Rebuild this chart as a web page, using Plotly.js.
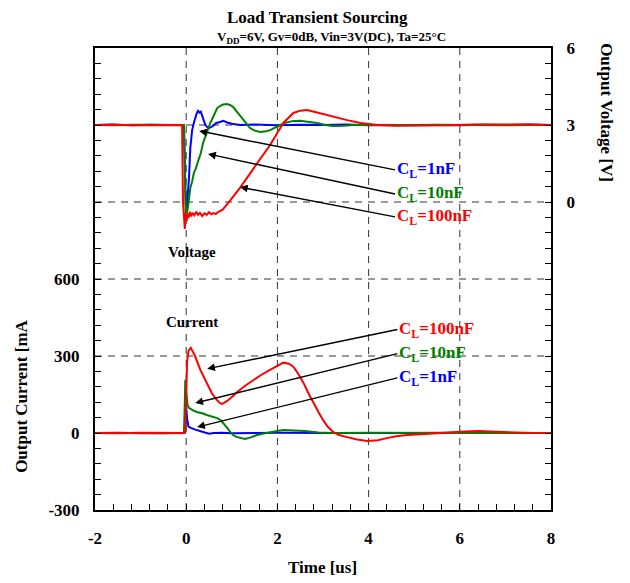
<!DOCTYPE html>
<html>
<head>
<meta charset="utf-8">
<script src="https://cdn.plot.ly/plotly-3.0.1.min.js"></script>
<style>
  html, body { margin: 0; padding: 0; background: #fff; }
  #chart { width: 630px; height: 583px; }
</style>
</head>
<body>
<div id="chart"></div>
<script>
// Output voltage [V] versus time [us]
const tV1 = [-2, -1.6, -1.2, -0.8, -0.4, -0.05, -0.03, -0.01, 0.01, 0.02, 0.04, 0.06, 0.09, 0.13, 0.17, 0.2, 0.23, 0.26, 0.29, 0.32, 0.35, 0.38, 0.42, 0.46, 0.5, 0.58, 0.66, 0.74, 0.81, 0.9, 1.0, 1.18, 1.5, 2, 2.5, 3, 3.5, 4, 4.5, 5, 5.5, 6, 6.5, 7, 7.5, 8];
const vV1 = [3.0, 3.02, 2.99, 3.01, 3.0, 3.0, 1.6, -0.1, -0.25, -0.2, 0.4, 0.9, 2.1, 2.8, 3.1, 3.3, 3.45, 3.55, 3.48, 3.52, 3.35, 3.2, 3.0, 2.92, 2.88, 2.95, 3.08, 3.12, 3.16, 3.1, 3.05, 3.0, 3.02, 2.99, 3.01, 3.0, 3.02, 2.99, 3.0, 3.01, 3.0, 2.99, 3.01, 3.0, 3.02, 3.0];

const tV10 = [-2, -1.6, -1.2, -0.8, -0.4, -0.05, -0.03, -0.01, 0.01, 0.03, 0.06, 0.09, 0.13, 0.17, 0.21, 0.24, 0.28, 0.32, 0.37, 0.42, 0.47, 0.53, 0.6, 0.68, 0.75, 0.81, 0.89, 0.96, 1.03, 1.1, 1.18, 1.25, 1.4, 1.5, 1.62, 1.75, 1.84, 2.06, 2.2, 2.35, 2.5, 2.7, 2.87, 3.05, 3.22, 3.45, 3.66, 4.0, 4.5, 5, 5.5, 6, 6.5, 7, 7.5, 8];
const vV10 = [3.0, 2.99, 3.01, 3.0, 3.01, 3.0, 1.2, -0.35, -0.45, -0.3, 0.1, 0.55, 0.8, 1.15, 1.3, 1.44, 1.7, 1.9, 2.3, 2.55, 2.8, 3.08, 3.35, 3.66, 3.75, 3.8, 3.82, 3.78, 3.7, 3.55, 3.35, 3.19, 2.88, 2.78, 2.73, 2.76, 2.8, 3.0, 3.1, 3.16, 3.17, 3.12, 3.08, 3.0, 2.96, 2.97, 3.0, 3.0, 2.99, 3.0, 3.01, 3.0, 3.0, 2.99, 3.0, 3.0];

const tV100 = [-2, -1.6, -1.2, -0.8, -0.4, -0.09, -0.07, -0.05, -0.03, -0.01, 0.01, 0.03, 0.05, 0.08, 0.11, 0.14, 0.18, 0.22, 0.26, 0.3, 0.35, 0.4, 0.45, 0.5, 0.55, 0.6, 0.65, 0.7, 0.8, 0.9, 1.0, 1.18, 1.56, 1.84, 2.13, 2.35, 2.5, 2.65, 2.85, 3.09, 3.3, 3.53, 3.82, 4.2, 4.6, 5.2, 5.8, 6.3, 7.0, 7.5, 8];
const vV100 = [3.0, 3.01, 2.99, 3.0, 3.01, 3.0, 0.0, -0.8, -1.05, -0.4, -0.75, -0.45, -0.62, -0.38, -0.56, -0.42, -0.52, -0.38, -0.5, -0.42, -0.55, -0.44, -0.5, -0.4, -0.48, -0.43, -0.47, -0.39, -0.3, -0.08, 0.15, 0.55, 1.52, 2.22, 3.08, 3.47, 3.56, 3.58, 3.5, 3.39, 3.28, 3.19, 3.08, 3.0, 2.97, 2.97, 2.99, 3.02, 3.03, 3.02, 3.0];

// Output current [mA] versus time [us]
const tI1 = [-2, -1.5, -1, -0.5, -0.03, -0.01, 0.0, 0.02, 0.05, 0.1, 0.15, 0.2, 0.3, 0.4, 0.5, 0.6, 0.8, 1.0, 1.5, 2, 3, 4, 5, 6, 7, 8];
const iI1 = [0, 1, -1, 0, 0, 45, 102, 55, 25, 20, 15, 13, 8, 3, -3, 0, 1, -1, 0, 1, 0, -1, 0, 1, 0, 0];

const tI10 = [-2, -1.5, -1, -0.5, -0.05, -0.03, -0.02, 0.0, 0.03, 0.06, 0.09, 0.15, 0.23, 0.3, 0.37, 0.45, 0.52, 0.6, 0.68, 0.75, 0.82, 0.9, 0.96, 1.03, 1.1, 1.2, 1.29, 1.4, 1.55, 1.7, 1.84, 2.0, 2.13, 2.35, 2.6, 2.9, 3.2, 4, 5, 6, 7, 8];
const iI10 = [0, 1, 0, -1, 0, 120, 207, 160, 109, 98, 94, 88, 82, 80, 76, 70, 66, 63, 58, 51, 38, 20, 5, -8, -15, -20, -23, -18, -8, -2, 4, 8, 12, 10, 8, 2, 0, 1, 0, 1, 0, 0];

const tI100 = [-2, -1.5, -1, -0.5, -0.04, -0.02, 0.0, 0.02, 0.05, 0.1, 0.15, 0.2, 0.31, 0.45, 0.56, 0.65, 0.75, 0.79, 0.9, 1.0, 1.12, 1.3, 1.47, 1.65, 1.84, 2.0, 2.13, 2.25, 2.35, 2.46, 2.57, 2.68, 2.79, 2.9, 3.0, 3.1, 3.22, 3.35, 3.53, 3.75, 3.97, 4.2, 4.4, 4.6, 4.85, 5.2, 5.6, 6.0, 6.4, 6.8, 7.2, 7.6, 8];
const iI100 = [0, -1, 1, 0, 0, 10, 150, 280, 320, 332, 315, 297, 246, 195, 156, 133, 115, 113, 125, 140, 160, 185, 207, 227, 246, 262, 274, 270, 258, 230, 196, 155, 117, 82, 51, 25, 4, -8, -16, -25, -31, -28, -20, -13, -8, -3, 0, 5, 8, 5, 2, 0, 0];

// Curve colours and legend texts
const seriesColors = ['#0000ff', '#008000', '#ff0000'];
const seriesNames = ['C<sub>L</sub>=1nF', 'C<sub>L</sub>=10nF', 'C<sub>L</sub>=100nF'];

// Axis ranges, labelled ticks, tick spacing and dashed grid positions
const xRange = [-2, 8];
const xLabels = [-2, 0, 2, 4, 6, 8];
const xStep = 0.4;
const xGrid = [0, 2, 4, 6];
const iRange = [-300, 1500];
const iLabels = [-300, 0, 300, 600];
const iStep = 60;
const iGrid = [300, 600];
const vRange = [-12, 6];
const vLabels = [0, 3, 6];
const vStep = 0.6;
const vGrid = [0, 3];

// Labels with pointer arrows: [label t, label value, arrow head t, arrow head value]
const voltPointers = [[4.58, 1.25, 0.285, 2.77], [4.58, 0.31, 0.48, 1.87], [4.58, -0.58, 1.18, 0.58]];
const currPointers = [[4.63, 215, 0.24, 23], [4.63, 309, 0.2, 117], [4.63, 403, 0.46, 250]];

const FONT = 'Liberation Serif, Times New Roman, serif';

const line = (c) => ({ color: c, width: 2 });
const traces = [
  { x: tV1, y: vV1, yaxis: 'y2', mode: 'lines', line: line(seriesColors[0]) },
  { x: tV10, y: vV10, yaxis: 'y2', mode: 'lines', line: line(seriesColors[1]) },
  { x: tV100, y: vV100, yaxis: 'y2', mode: 'lines', line: line(seriesColors[2]) },
  { x: tI1, y: iI1, yaxis: 'y', mode: 'lines', line: line(seriesColors[0]) },
  { x: tI10, y: iI10, yaxis: 'y', mode: 'lines', line: line(seriesColors[1]) },
  { x: tI100, y: iI100, yaxis: 'y', mode: 'lines', line: line(seriesColors[2]) }
];

// Tick positions every step across the range, labelled only at the chosen values
function tickSet(range, step, labels) {
  const vals = [], text = [];
  const n = Math.round((range[1] - range[0]) / step);
  for (let k = 0; k <= n; k++) {
    const v = Math.round((range[0] + k * step) * 1000) / 1000;
    vals.push(v);
    text.push(labels.some(l => Math.abs(l - v) < 1e-6) ? String(v) : '');
  }
  return { tickmode: 'array', tickvals: vals, ticktext: text };
}

const tickFont = { family: FONT, size: 17, color: '#000', weight: 'bold' };
const axisBase = {
  ticks: 'inside', ticklen: 6, tickwidth: 1, tickcolor: '#000',
  showline: true, linecolor: '#000', linewidth: 2,
  zeroline: false, showgrid: false, tickfont: tickFont
};

// Dashed grid lines, drawn beneath the curves
const gridLine = { color: '#333', width: 1, dash: '7px,6px' };
const shapes = [];
xGrid.forEach(v => shapes.push({ type: 'line', layer: 'below', xref: 'x', yref: 'paper', x0: v, x1: v, y0: 0, y1: 1, line: gridLine }));
iGrid.forEach(v => shapes.push({ type: 'line', layer: 'below', xref: 'paper', yref: 'y', x0: 0, x1: 1, y0: v, y1: v, line: gridLine }));
vGrid.forEach(v => shapes.push({ type: 'line', layer: 'below', xref: 'paper', yref: 'y2', x0: 0, x1: 1, y0: v, y1: v, line: gridLine }));

const annotations = [];
function txt(text, x, y, xref, yref, opts) {
  annotations.push(Object.assign({
    text: text, x: x, y: y, xref: xref, yref: yref, showarrow: false,
    xanchor: 'center', yanchor: 'middle',
    font: { family: FONT, size: 17, color: '#000', weight: 'bold' }
  }, opts || {}));
}

// Titles
txt('Load Transient Sourcing', 0.487, 1.067, 'paper', 'paper', { font: { family: FONT, size: 17, color: '#000', weight: 'bold' } });
txt('V<sub>DD</sub>=6V, Gv=0dB, Vin=3V(DC), Ta=25°C', 0.518, 1.022, 'paper', 'paper', { font: { family: FONT, size: 13, color: '#000', weight: 'bold' } });
txt('Time [us]', 0.498, -0.1255, 'paper', 'paper');
txt('Output Current [mA', -0.16, 0.245, 'paper', 'paper', { textangle: -90 });
txt('Output Voltage [V]', 1.123, 0.861, 'paper', 'paper', { textangle: 90 });

// Section labels
txt('Voltage', -0.44, -1.95, 'x', 'y2', { xanchor: 'left', font: { family: FONT, size: 15, color: '#000', weight: 'bold' } });
txt('Current', -0.48, 434, 'x', 'y', { xanchor: 'left', font: { family: FONT, size: 15, color: '#000', weight: 'bold' } });

// Series labels, each with an arrow to its curve
function pointer(p, k, yref) {
  annotations.push({
    text: seriesNames[k], x: p[2], y: p[3], ax: p[0], ay: p[1],
    xref: 'x', yref: yref, axref: 'x', ayref: yref, xanchor: 'left', yanchor: 'middle',
    font: { family: FONT, size: 17, color: seriesColors[k], weight: 'bold' },
    showarrow: true, arrowhead: 2, arrowsize: 1.1, arrowwidth: 1.4, arrowcolor: '#000', standoff: 0
  });
}
voltPointers.forEach((p, k) => pointer(p, k, 'y2'));
currPointers.forEach((p, k) => pointer(p, k, 'y'));

const layout = {
  width: 630, height: 583,
  margin: { l: 95, r: 79, t: 48, b: 73 },
  paper_bgcolor: '#fff', plot_bgcolor: '#fff',
  showlegend: false,
  xaxis: Object.assign({ range: xRange, mirror: true, ticklabelstandoff: 12 }, axisBase, tickSet(xRange, xStep, xLabels)),
  yaxis: Object.assign({ range: iRange, ticklabelstandoff: 10 }, axisBase, tickSet(iRange, iStep, iLabels)),
  yaxis2: Object.assign({ range: vRange, overlaying: 'y', side: 'right', anchor: 'x', ticklabelstandoff: 10 }, axisBase, tickSet(vRange, vStep, vLabels)),
  shapes: shapes,
  annotations: annotations
};

Plotly.newPlot('chart', traces, layout, { staticPlot: true });
</script>
</body>
</html>
